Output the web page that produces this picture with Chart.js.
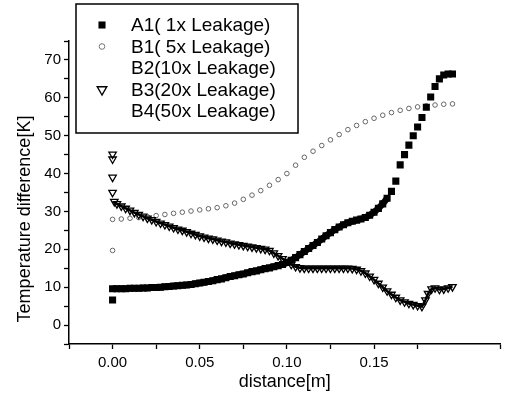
<!DOCTYPE html>
<html>
<head>
<meta charset="utf-8">
<script src="https://cdn.jsdelivr.net/npm/chart.js@4/dist/chart.umd.min.js"></script>
<style>
  html, body { margin: 0; padding: 0; background: #fff; }
  #wrap { width: 506px; height: 405px; }
</style>
</head>
<body>
<div id="wrap"><canvas id="c" width="506" height="405"></canvas></div>
<script>
// ---------------- data ----------------
const seriesLabels = ['A1( 1x Leakage)', 'B1( 5x Leakage)', 'B2(10x Leakage)', 'B3(20x Leakage)', 'B4(50x Leakage)'];
const xTitle = 'distance[m]';
const yTitle = 'Temperature difference[K]';

const a1X = [0.000, 0.0000,0.0025,0.0050,0.0075,0.0100,0.0125,0.0150,0.0175,0.0200,0.0225,0.0250,0.0275,0.0300,0.0325,0.0350,0.0375,0.0400,0.0425,0.0450,0.0475,0.0500,0.0525,0.0550,0.0575,0.0600,0.0625,0.0650,0.0675,0.0700,0.0725,0.0750,0.0775,0.0800,0.0825,0.0850,0.0875,0.0900,0.0925,0.0950,0.0975,0.1000,0.1025,0.1050,0.1075,0.1100,0.1125,0.1150,0.1175,0.1200,0.1225,0.1250,0.1275,0.1300,0.1325,0.1350,0.1375,0.1400,0.1425,0.1450,0.1475,0.1500,0.1525,0.1550,0.1575,0.1600,0.1625,0.1650,0.1675,0.1700,0.1725,0.1750,0.1775,0.1800,0.1825,0.1850,0.1875,0.1900,0.1925,0.1950];
const a1Y = [6.6, 9.6,9.6,9.6,9.6,9.7,9.7,9.7,9.8,9.8,9.9,9.9,10.0,10.1,10.2,10.3,10.4,10.5,10.6,10.7,10.9,11.1,11.3,11.5,11.7,12.0,12.2,12.5,12.8,13.0,13.3,13.5,13.8,14.1,14.3,14.6,14.9,15.1,15.4,15.7,16.0,16.5,17.1,17.8,18.6,19.4,20.2,21.0,21.8,22.7,23.6,24.4,25.2,25.9,26.5,27.0,27.4,27.7,28.0,28.4,29.0,29.8,30.8,32.0,33.5,35.3,38.0,42.3,45.0,47.5,50.0,52.3,54.8,57.5,60.2,63.0,65.0,66.0,66.3,66.3];

const b1X = [0.000, 0.000,0.005,0.010,0.015,0.020,0.025,0.030,0.035,0.040,0.045,0.050,0.055,0.060,0.065,0.070,0.075,0.080,0.085,0.090,0.095,0.100,0.105,0.110,0.115,0.120,0.125,0.130,0.135,0.140,0.145,0.150,0.155,0.160,0.165,0.170,0.175,0.180,0.185,0.190,0.195];
const b1Y = [19.7, 27.9,28.0,28.2,28.4,28.6,28.9,29.2,29.5,29.8,30.1,30.4,30.7,31.0,31.5,32.2,33.2,34.3,35.5,36.9,38.4,40.0,42.2,44.3,45.9,47.4,48.9,50.3,51.6,52.7,53.7,54.6,55.4,56.1,56.7,57.2,57.6,57.9,58.1,58.3,58.4];

const b2X = [];
const b2Y = [];

const b3X = [0.000,0.000,0.000,0.000, 0.0010,0.0025,0.0050,0.0075,0.0100,0.0125,0.0150,0.0175,0.0200,0.0225,0.0250,0.0275,0.0300,0.0325,0.0350,0.0375,0.0400,0.0425,0.0450,0.0475,0.0500,0.0525,0.0550,0.0575,0.0600,0.0625,0.0650,0.0675,0.0700,0.0725,0.0750,0.0775,0.0800,0.0825,0.0850,0.0875,0.0900,0.0925,0.0950,0.0975,0.1000,0.1025,0.1050,0.1075,0.1100,0.1125,0.1150,0.1175,0.1200,0.1225,0.1250,0.1275,0.1300,0.1325,0.1350,0.1375,0.1400,0.1425,0.1450,0.1475,0.1500,0.1525,0.1550,0.1575,0.1600,0.1625,0.1650,0.1675,0.1700,0.1725,0.1750,0.1775,0.1795,0.1810,0.1830,0.1850,0.1875,0.1900,0.1925,0.1950];
const b3Y = [45.1,43.8,39.0,35.0, 32.6,32.0,31.4,30.8,30.3,29.7,29.2,28.7,28.2,27.8,27.3,26.9,26.5,26.1,25.7,25.3,25.0,24.6,24.2,23.9,23.5,23.2,22.9,22.7,22.4,22.1,21.9,21.6,21.4,21.2,21.0,20.8,20.6,20.4,20.2,20.0,19.7,19.0,18.3,17.5,16.8,16.0,15.4,15.1,15.0,15.0,15.0,15.0,15.0,15.0,15.0,15.0,15.0,15.0,15.0,14.9,14.7,14.3,13.7,12.9,12.0,11.0,10.0,9.0,8.1,7.3,6.6,6.1,5.7,5.4,5.1,4.9,6.6,8.3,9.5,9.8,9.4,9.5,9.8,10.1];

const b4X = [];
const b4Y = [];

const xTickStep = 0.025, xLabelStep = 0.05;
const yTickStep = 5, yLabelStep = 10;

// ---------------- build ----------------
const pts = (xs, ys) => xs.map((x, i) => ({ x: x, y: ys[i] }));
const FONT = '"Liberation Sans", Arial, Helvetica, sans-serif';
const CLEAR = 'rgba(0,0,0,0)';

const datasets = [
  { label: seriesLabels[0], data: pts(a1X, a1Y), showLine: true, borderColor: '#000', borderWidth: 6.5,
    segment: { borderColor: (c) => (c.p0DataIndex < 1 || c.p0DataIndex >= 64) ? CLEAR : '#000' },
    pointStyle: 'rect', pointRadius: 5, pointBackgroundColor: '#000', pointBorderColor: '#000', pointBorderWidth: 0, order: 2,
    legendMarker: { style: 'rect', r: 5, fill: '#000', stroke: '#000', w: 0, rot: 0 } },
  { label: seriesLabels[1], data: pts(b1X, b1Y), pointStyle: 'circle', pointRadius: 2.3, pointBackgroundColor: CLEAR, pointBorderColor: '#666', pointBorderWidth: 1, order: 4,
    legendMarker: { style: 'circle', r: 2.8, fill: '#fff', stroke: '#777', w: 1, rot: 0 } },
  { label: seriesLabels[2], data: pts(b2X, b2Y), pointRadius: 0, order: 5, legendMarker: null },
  { label: seriesLabels[3], data: pts(b3X, b3Y), showLine: true, borderColor: '#000', borderWidth: 2.5,
    segment: { borderColor: (c) => (c.p0DataIndex < 4) ? CLEAR : '#000' },
    pointStyle: 'triangle', pointRotation: 180, pointRadius: 4.3, pointBackgroundColor: CLEAR, pointBorderColor: '#000', pointBorderWidth: 1.3, order: 1,
    legendMarker: { style: 'triangle', r: 5.5, fill: '#fff', stroke: '#000', w: 1.4, rot: 180 } },
  { label: seriesLabels[4], data: pts(b4X, b4Y), pointRadius: 0, order: 6, legendMarker: null }
];

const onMultiple = (v, step) => Math.abs(v / step - Math.round(v / step)) < 1e-6;

const boxLegend = {
  id: 'boxLegend',
  afterDraw(chart) {
    const ctx = chart.ctx;
    ctx.save();
    ctx.fillStyle = '#fff';
    ctx.fillRect(76, 4, 222, 129);
    ctx.strokeStyle = '#000';
    ctx.lineWidth = 1.5;
    ctx.strokeRect(76, 4, 222, 129);
    ctx.font = '19px ' + FONT;
    ctx.textBaseline = 'middle';
    ctx.textAlign = 'left';
    chart.data.datasets.forEach((ds, i) => {
      const y = 25 + i * 21.5;
      const m = ds.legendMarker;
      if (m) {
        ctx.fillStyle = m.fill;
        ctx.strokeStyle = m.stroke;
        ctx.lineWidth = m.w;
        Chart.helpers.drawPoint(ctx, { pointStyle: m.style, radius: m.r, rotation: m.rot, borderWidth: m.w }, 102, y);
      }
      ctx.fillStyle = '#000';
      ctx.fillText(ds.label, 131, y + 1);
    });
    ctx.translate(25, 219);
    ctx.rotate(-Math.PI / 2);
    ctx.font = '18px ' + FONT;
    ctx.textAlign = 'center';
    ctx.fillStyle = '#000';
    ctx.fillText(yTitle, 0, 0);
    ctx.restore();
  }
};

new Chart(document.getElementById('c'), {
  type: 'scatter',
  data: { datasets: datasets },
  options: {
    responsive: false,
    animation: false,
    devicePixelRatio: 1,
    layout: { padding: { left: 0, right: 0, top: 41, bottom: 0 } },
    plugins: { legend: { display: false }, tooltip: { enabled: false } },
    scales: {
      x: {
        type: 'linear',
        min: -0.025,
        max: 0.2225,
        afterFit: (s) => { s.height = 61; },
        border: { display: true, color: '#000', width: 1.5 },
        grid: { drawOnChartArea: false, drawTicks: true, tickLength: 5, color: '#000', tickWidth: 1.3 },
        ticks: {
          stepSize: xTickStep,
          autoSkip: false,
          maxRotation: 0,
          padding: 5,
          color: '#000',
          font: { family: FONT, size: 15 },
          callback: (v) => (v > -1e-9 && v < 0.21 && onMultiple(v, xLabelStep)) ? v.toFixed(2) : ''
        },
        title: { display: true, text: xTitle, color: '#000', font: { family: FONT, size: 18 }, padding: { top: 0, bottom: 12 } }
      },
      y: {
        type: 'linear',
        min: -5,
        max: 75,
        afterFit: (s) => { s.width = 69; },
        border: { display: true, color: '#000', width: 1.5 },
        grid: { drawOnChartArea: false, drawTicks: true, tickLength: 5, color: '#000', tickWidth: 1.3 },
        ticks: {
          stepSize: yTickStep,
          autoSkip: false,
          padding: 3,
          color: '#000',
          font: { family: FONT, size: 15 },
          callback: (v) => (v >= 0 && v <= 70 && onMultiple(v, yLabelStep)) ? String(Math.round(v)) : ''
        },
        title: { display: false }
      }
    }
  },
  plugins: [boxLegend]
});
</script>
</body>
</html>
